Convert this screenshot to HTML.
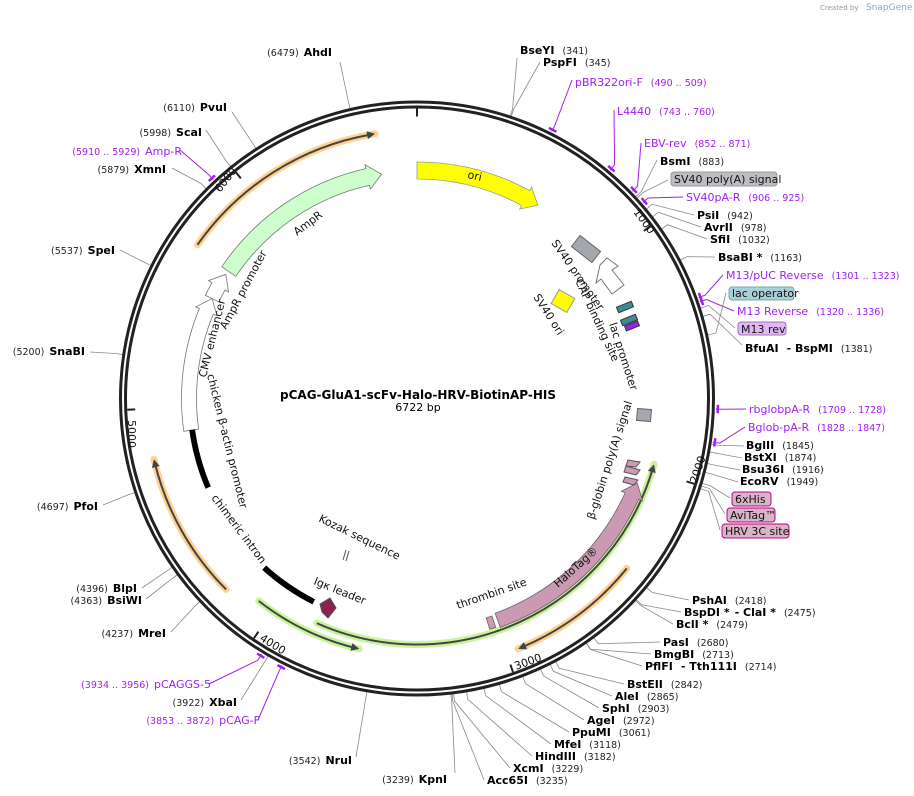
<!DOCTYPE html>
<html><head><meta charset="utf-8"><style>
html,body{margin:0;padding:0;background:#fff;}
svg{display:block;font-family:"DejaVu Sans","Liberation Sans",sans-serif;}
.e{font-weight:bold;font-size:11px;fill:#000;}
.n{font-size:9.5px;fill:#222;font-weight:normal;}
.p{font-size:11px;fill:#a020f0;}
.pn{font-size:9.5px;fill:#a020f0;}
.f{font-size:11px;fill:#111;}
</style></head><body>
<svg id="s" width="914" height="796" viewBox="0 0 914 796" xmlns="http://www.w3.org/2000/svg">
<g id="lines"></g>
<g id="feat"></g>
<circle cx="417" cy="398.5" r="296.5" fill="none" stroke="#222" stroke-width="3"/>
<circle cx="417" cy="398.5" r="291.5" fill="none" stroke="#222" stroke-width="3"/>
<g id="ticks"></g>

<text x="820" y="10" font-size="7" fill="#999">Created by</text>
<text x="866" y="10" font-size="9" fill="#8ab">SnapGene</text>

<text x="418" y="399" text-anchor="middle" font-weight="bold" font-size="12">pCAG-GluA1-scFv-Halo-HRV-BiotinAP-HIS</text>
<text x="418" y="411" text-anchor="middle" font-size="11">6722 bp</text>

<text class="f" font-size="10" transform="translate(633,212) rotate(54)">1000</text>
<text class="f" font-size="10" transform="translate(697,484) rotate(-72)">2000</text>
<text class="f" font-size="10" transform="translate(516,670) rotate(-20)">3000</text>
<text class="f" font-size="10" transform="translate(259,640) rotate(32)">4000</text>
<text class="f" font-size="10" transform="translate(128,420) rotate(90)">5000</text>
<text class="f" font-size="10" transform="translate(220,193) rotate(-52)">6000</text>

<text x="332" y="56" text-anchor="end"><tspan class="n">(6479)</tspan><tspan class="e" dx="5">AhdI</tspan></text>
<text x="227" y="111" text-anchor="end"><tspan class="n">(6110)</tspan><tspan class="e" dx="5">PvuI</tspan></text>
<text x="202" y="136" text-anchor="end"><tspan class="n">(5998)</tspan><tspan class="e" dx="5">ScaI</tspan></text>
<text x="182" y="155" text-anchor="end"><tspan class="pn">(5910 .. 5929)</tspan><tspan class="p" dx="5">Amp-R</tspan></text>
<text x="166" y="173" text-anchor="end"><tspan class="n">(5879)</tspan><tspan class="e" dx="5">XmnI</tspan></text>
<text x="115" y="254" text-anchor="end"><tspan class="n">(5537)</tspan><tspan class="e" dx="5">SpeI</tspan></text>
<text x="85" y="355" text-anchor="end"><tspan class="n">(5200)</tspan><tspan class="e" dx="5">SnaBI</tspan></text>
<text x="98" y="510" text-anchor="end"><tspan class="n">(4697)</tspan><tspan class="e" dx="5">PfoI</tspan></text>
<text x="137" y="592" text-anchor="end"><tspan class="n">(4396)</tspan><tspan class="e" dx="5">BlpI</tspan></text>
<text x="142" y="604" text-anchor="end"><tspan class="n">(4363)</tspan><tspan class="e" dx="5">BsiWI</tspan></text>
<text x="166" y="637" text-anchor="end"><tspan class="n">(4237)</tspan><tspan class="e" dx="5">MreI</tspan></text>
<text x="211" y="688" text-anchor="end"><tspan class="pn">(3934 .. 3956)</tspan><tspan class="p" dx="5">pCAGGS-5</tspan></text>
<text x="237" y="706" text-anchor="end"><tspan class="n">(3922)</tspan><tspan class="e" dx="5">XbaI</tspan></text>
<text x="260" y="724" text-anchor="end"><tspan class="pn">(3853 .. 3872)</tspan><tspan class="p" dx="5">pCAG-F</tspan></text>
<text x="352" y="764" text-anchor="end"><tspan class="n">(3542)</tspan><tspan class="e" dx="5">NruI</tspan></text>
<text x="447" y="783" text-anchor="end"><tspan class="n">(3239)</tspan><tspan class="e" dx="5">KpnI</tspan></text>

<text x="520" y="54"><tspan class="e">BseYI</tspan><tspan class="n" dx="8">(341)</tspan></text>
<text x="543" y="66"><tspan class="e">PspFI</tspan><tspan class="n" dx="8">(345)</tspan></text>
<text x="575" y="86"><tspan class="p">pBR322ori-F</tspan><tspan class="pn" dx="8">(490 .. 509)</tspan></text>
<text x="617" y="115"><tspan class="p">L4440</tspan><tspan class="pn" dx="8">(743 .. 760)</tspan></text>
<text x="644" y="147"><tspan class="p">EBV-rev</tspan><tspan class="pn" dx="8">(852 .. 871)</tspan></text>
<text x="660" y="165"><tspan class="e">BsmI</tspan><tspan class="n" dx="8">(883)</tspan></text>
<rect x="671" y="172" width="106" height="14" rx="3" fill="#bcbec2" stroke="#999"/>
<text x="674" y="183" class="f">SV40 poly(A) signal</text>
<text x="686" y="201"><tspan class="p">SV40pA-R</tspan><tspan class="pn" dx="8">(906 .. 925)</tspan></text>
<text x="697" y="219"><tspan class="e">PsiI</tspan><tspan class="n" dx="8">(942)</tspan></text>
<text x="704" y="231"><tspan class="e">AvrII</tspan><tspan class="n" dx="8">(978)</tspan></text>
<text x="710" y="243"><tspan class="e">SfiI</tspan><tspan class="n" dx="8">(1032)</tspan></text>
<text x="718" y="261"><tspan class="e">BsaBI *</tspan><tspan class="n" dx="8">(1163)</tspan></text>
<text x="726" y="279"><tspan class="p">M13/pUC Reverse</tspan><tspan class="pn" dx="8">(1301 .. 1323)</tspan></text>
<rect x="729" y="287" width="65" height="13" rx="3" fill="#a9cfd8" stroke="#7aa"/>
<text x="732" y="297" class="f">lac operator</text>
<text x="737" y="315"><tspan class="p">M13 Reverse</tspan><tspan class="pn" dx="8">(1320 .. 1336)</tspan></text>
<rect x="738" y="322" width="48" height="13" rx="3" fill="#e2b8f2" stroke="#a070c0"/>
<text x="741" y="333" class="f">M13 rev</text>
<text x="745" y="352"><tspan class="e">BfuAI</tspan><tspan class="e" dx="8">- BspMI</tspan><tspan class="n" dx="8">(1381)</tspan></text>
<text x="749" y="413"><tspan class="p">rbglobpA-R</tspan><tspan class="pn" dx="8">(1709 .. 1728)</tspan></text>
<text x="748" y="431"><tspan class="p">Bglob-pA-R</tspan><tspan class="pn" dx="8">(1828 .. 1847)</tspan></text>
<text x="746" y="449"><tspan class="e">BglII</tspan><tspan class="n" dx="8">(1845)</tspan></text>
<text x="744" y="461"><tspan class="e">BstXI</tspan><tspan class="n" dx="8">(1874)</tspan></text>
<text x="742" y="473"><tspan class="e">Bsu36I</tspan><tspan class="n" dx="8">(1916)</tspan></text>
<text x="740" y="485"><tspan class="e">EcoRV</tspan><tspan class="n" dx="8">(1949)</tspan></text>
<rect x="732" y="492" width="39" height="14" rx="3" fill="#d8b4c6" stroke="#b08"/>
<text x="735" y="503" class="f">6xHis</text>
<rect x="727" y="508" width="48" height="14" rx="3" fill="#d8b4c6" stroke="#b08"/>
<text x="730" y="519" class="f">AviTag™</text>
<rect x="722" y="524" width="67" height="14" rx="3" fill="#d8b4c6" stroke="#b08"/>
<text x="725" y="535" class="f">HRV 3C site</text>
<text x="692" y="604"><tspan class="e">PshAI</tspan><tspan class="n" dx="8">(2418)</tspan></text>
<text x="684" y="616"><tspan class="e">BspDI *</tspan><tspan class="e" dx="5">- ClaI *</tspan><tspan class="n" dx="8">(2475)</tspan></text>
<text x="676" y="628"><tspan class="e">BclI *</tspan><tspan class="n" dx="8">(2479)</tspan></text>
<text x="663" y="646"><tspan class="e">PasI</tspan><tspan class="n" dx="8">(2680)</tspan></text>
<text x="654" y="658"><tspan class="e">BmgBI</tspan><tspan class="n" dx="8">(2713)</tspan></text>
<text x="645" y="670"><tspan class="e">PflFI</tspan><tspan class="e" dx="8">- Tth111I</tspan><tspan class="n" dx="8">(2714)</tspan></text>
<text x="627" y="688"><tspan class="e">BstEII</tspan><tspan class="n" dx="8">(2842)</tspan></text>
<text x="615" y="700"><tspan class="e">AleI</tspan><tspan class="n" dx="8">(2865)</tspan></text>
<text x="602" y="712"><tspan class="e">SphI</tspan><tspan class="n" dx="8">(2903)</tspan></text>
<text x="587" y="724"><tspan class="e">AgeI</tspan><tspan class="n" dx="8">(2972)</tspan></text>
<text x="572" y="736"><tspan class="e">PpuMI</tspan><tspan class="n" dx="8">(3061)</tspan></text>
<text x="554" y="748"><tspan class="e">MfeI</tspan><tspan class="n" dx="8">(3118)</tspan></text>
<text x="535" y="760"><tspan class="e">HindIII</tspan><tspan class="n" dx="8">(3182)</tspan></text>
<text x="513" y="772"><tspan class="e">XcmI</tspan><tspan class="n" dx="8">(3229)</tspan></text>
<text x="487" y="784"><tspan class="e">Acc65I</tspan><tspan class="n" dx="8">(3235)</tspan></text>

<g class="f" font-size="11">
<text transform="translate(467,178) rotate(12)">ori</text>
<text transform="translate(297,236) rotate(-37)">AmpR</text>
<text transform="translate(226,330) rotate(-62)">AmpR promoter</text>
<text transform="translate(206,378) rotate(-76)">CMV enhancer</text>
<text transform="translate(207,375) rotate(76)">chicken β-actin promoter</text>
<text transform="translate(211,498) rotate(53)">chimeric intron</text>
<text transform="translate(318,521) rotate(26)">Kozak sequence</text>
<text transform="translate(313,584) rotate(22)">Igκ leader</text>
<text transform="translate(458,609) rotate(-19)">thrombin site</text>
<text transform="translate(558,588) rotate(-42)">HaloTag®</text>
<text transform="translate(594,520) rotate(-72)">β-globin poly(A) signal</text>
<text transform="translate(551,243) rotate(55)">SV40 promoter</text>
<text transform="translate(575,281) rotate(65)">CAP binding site</text>
<text transform="translate(609,324) rotate(72)">lac promoter</text>
<text transform="translate(533,297) rotate(57)">SV40 ori</text>
</g>
</svg>
<script>
var cx=417,cy=398.5,N=6722;
function P(a,r){var t=a*Math.PI/180;return[cx+r*Math.sin(t),cy-r*Math.cos(t)];}
function A(bp){return bp/N*360;}
function arcd(a1,a2,r){var p=P(a1,r),q=P(a2,r),l=Math.abs(a2-a1)>180?1:0,sw=a2>a1?1:0;return "M"+p[0]+","+p[1]+" A"+r+","+r+" 0 "+l+" "+sw+" "+q[0]+","+q[1];}
var F=document.getElementById('feat'),L=document.getElementById('lines'),T=document.getElementById('ticks');
function add(g,tag,at){var e=document.createElementNS("http://www.w3.org/2000/svg",tag);for(var k in at)e.setAttribute(k,at[k]);g.appendChild(e);return e;}
function band(a1,a2,r,w,fill,stroke,head){
 var dir=a2>a1?1:-1,h=head?(14/r*180/Math.PI)*dir:0,ah=a2-h;
 var o1=P(a1,r+w/2),i2=P(ah,r-w/2);
 var d="M"+o1+" "+arcd(a1,ah,r+w/2).replace(/^M[^A]*/,"");
 if(head){var ho=P(ah,r+w/2+4),tip=P(a2,r),hi=P(ah,r-w/2-4);d+=" L"+ho+" L"+tip+" L"+hi+" L"+i2;}else d+=" L"+i2;
 d+=" "+arcd(ah,a1,r-w/2).replace(/^M[^A]*/,"")+" Z";
 add(F,"path",{d:d,fill:fill,stroke:stroke,"stroke-width":0.8});
}
function hl(a1,a2,r,glow){
 var dir=a2>a1?1:-1,h=(8/r*180/Math.PI)*dir;
 add(F,"path",{d:arcd(a1,a2,r),fill:"none",stroke:glow,"stroke-width":7,"stroke-linecap":"round","stroke-opacity":0.75});
 add(F,"path",{d:arcd(a1,a2-h*0.5,r),fill:"none",stroke:"#444","stroke-width":2});
 var t=P(a2,r),b1=P(a2-h,r+4),b2=P(a2-h,r-4);
 add(F,"path",{d:"M"+t+" L"+b1+" L"+b2+" Z",fill:"#444"});
}
hl(305,351,268,"#ffc36e");
hl(225,257,270,"#ffc36e");
hl(129,158,270,"#ffc36e");
hl(218,193,257,"#b6f07a");
hl(204,105.5,246,"#b6f07a");
band(0,32,228,17,"#ffff00","#999",true);
band(304,351,227,17,"#ccffcc","#777",true);
band(160,111,236,15,"#cc99b3","#666",true);
band(296,303,228,15,"#fff","#777",true);
band(262,296,228,15,"#fff","#777",true);
band(247,262,227,5,"#000","#000",false);
band(207,222,228,5,"#000","#000",false);
band(161,162.5,236,12,"#cc99b3","#666",false);
add(F,"rect",{x:-13,y:-7,width:26,height:14,fill:"#a4a7ad",stroke:"#666",transform:"translate(586,249) rotate(38)"});
add(F,"rect",{x:-9,y:-8,width:18,height:16,fill:"#ffff00",stroke:"#999",transform:"translate(563,301) rotate(30)"});
add(F,"rect",{x:-7,y:-6,width:14,height:12,fill:"#a4a7ad",stroke:"#666",transform:"translate(644,415) rotate(5)"});
add(F,"path",{d:"M600,265 L607,258 L618,266 L612,270 L624,285 L612,294 L601,279 L596,283 Z",fill:"#fff",stroke:"#777"});
add(F,"rect",{x:-8,y:-3,width:16,height:6,fill:"#3d8a9a",stroke:"#333",transform:"translate(625,307) rotate(-22)"});
add(F,"rect",{x:-8,y:-3,width:16,height:6,fill:"#3d8a9a",stroke:"#333",transform:"translate(629,320) rotate(-22)"});
add(F,"rect",{x:-7,y:-2.5,width:14,height:5,fill:"#a020f0",stroke:"#333",transform:"translate(632,326) rotate(-22)"});
add(F,"path",{d:"M628,460 L640,462 L636,467 L626,466 Z",fill:"#cc99b3",stroke:"#555"});
add(F,"path",{d:"M626,466 L640,470 L636,475 L624,472 Z",fill:"#cc99b3",stroke:"#555"});
add(F,"path",{d:"M625,477 L638,480 L634,485 L623,482 Z",fill:"#cc99b3",stroke:"#555"});
add(F,"path",{d:"M320,604 L330,598 L336,608 L328,618 L322,612 Z",fill:"#8b2252",stroke:"#555"});
add(F,"path",{d:"M343,560 L346,550 M346,561 L349,551",stroke:"#555","stroke-width":1});
[0,1000,2000,3000,4000,5000,6000].forEach(function(b){var p=P(A(b),290),q=P(A(b),282);add(T,"line",{x1:p[0],y1:p[1],x2:q[0],y2:q[1],stroke:"#222","stroke-width":2});});
var Ls=[[6479,340,62],[6110,232,112],[5998,206,130],[5879,172,168],[5537,120,250],[5200,90,352],[4697,103,505],[4396,142,588],[4363,146,599],[4237,171,632],[3922,241,700],[3542,356,757],[3239,455,773],
[341,517,58],[345,540,62],[883,657,160],[942,694,215],[978,701,227],[1032,707,239],[1163,715,257],[1381,742,345],[1845,744,446],[1874,742,458],[1916,740,470],[1949,738,482],
[2418,689,600],[2475,681,612],[2479,673,624],[2680,660,642],[2713,651,654],[2714,642,666],[2842,624,684],[2865,612,696],[2903,599,708],[2972,584,720],[3061,569,732],[3118,551,744],[3182,532,756],[3229,510,768],[3235,484,780]];
Ls.forEach(function(l){var p=P(A(l[0]),297),q=P(A(l[0]),305);add(L,"polyline",{points:p+" "+q+" "+l[1]+","+l[2],fill:"none",stroke:"#888","stroke-width":0.8});});
var Pr=[[5920,180,150],[500,572,80],[751,614,110],[861,641,143],[916,683,197],[1312,723,275],[1328,734,311],[1718,746,409],[1837,745,427],[3945,209,684],[3862,258,720]];
Pr.forEach(function(l){var p=P(A(l[0]),299),q=P(A(l[0]),306);add(L,"polyline",{points:p+" "+q+" "+l[1]+","+l[2],fill:"none",stroke:"#a020f0","stroke-width":1});
 var a=P(A(l[0])-0.8,301),b=P(A(l[0])+0.8,301);add(L,"line",{x1:a[0],y1:a[1],x2:b[0],y2:b[1],stroke:"#a020f0","stroke-width":2.5});});
[[890,668,180],[1450,726,293],[1350,735,328],[1990,730,498],[2000,725,514],[2010,720,530]].forEach(function(l){var p=P(A(l[0]),297),q=P(A(l[0]),306);add(L,"polyline",{points:p+" "+q+" "+l[1]+","+l[2],fill:"none",stroke:"#888","stroke-width":0.8});});
</script>
</body></html>
